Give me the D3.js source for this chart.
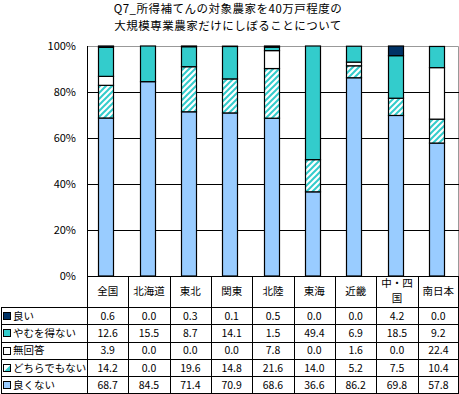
<!DOCTYPE html>
<html><head><meta charset="utf-8">
<script src="https://cdn.jsdelivr.net/npm/d3@7"></script>
<style>
body{margin:0;background:#fff;}
svg{display:block;font-family:"Noto Sans CJK JP","Noto Sans",sans-serif;}
</style></head>
<body><svg id="c" width="459" height="394"></svg>
<script>
const categories = ["全国","北海道","東北","関東","北陸","東海","近畿","中・四国","南日本"];
const yoi        = [0.6, 0.0, 0.3, 0.1, 0.5, 0.0, 0.0, 4.2, 0.0];
const yamuwoenai = [12.6, 15.5, 8.7, 14.1, 1.5, 49.4, 6.9, 18.5, 9.2];
const mukaito    = [3.9, 0.0, 0.0, 0.0, 7.8, 0.0, 1.6, 0.0, 22.4];
const dochira    = [14.2, 0.0, 19.6, 14.8, 21.6, 14.0, 5.2, 7.5, 10.4];
const yokunai    = [68.7, 84.5, 71.4, 70.9, 68.6, 36.6, 86.2, 69.8, 57.8];
const yTicks = [0, 20, 40, 60, 80, 100];
const titleLines = ["Q7_所得補てんの対象農家を40万戸程度の", "大規模専業農家だけにしぼることについて"];

// table rows (top to bottom) and stack order (bottom to top)
const seriesTable = [
  {name:"良い", vals:yoi, fill:"#003366"},
  {name:"やむを得ない", vals:yamuwoenai, fill:"#33CCCC"},
  {name:"無回答", vals:mukaito, fill:"#FFFFFF"},
  {name:"どちらでもない", vals:dochira, fill:"url(#hatch)"},
  {name:"良くない", vals:yokunai, fill:"#99CCFF"}
];
const stackOrder = seriesTable.slice().reverse();

const svg = d3.select("#c");
const defs = svg.append("defs");
const pat = defs.append("pattern").attr("id","hatch").attr("patternUnits","userSpaceOnUse")
  .attr("width",6).attr("height",6);
pat.append("rect").attr("width",6).attr("height",6).attr("fill","#fff");
pat.append("path").attr("d","M-1,7 L7,-1 M-1,1 L1,-1 M5,7 L7,5").attr("stroke","#33CCCC").attr("stroke-width",2);

const pLeft = 87, pRight = 458, pTop = 46, pBottom = 276;
const y = d3.scaleLinear().domain([0,100]).range([pBottom, pTop]);
const x = d3.scaleBand().domain(categories).range([pLeft, pRight+1]).paddingInner(0);
const barW = 15;

// title
svg.append("g").selectAll("text").data(titleLines).join("text")
  .attr("x", 228).attr("y",(d,i)=>13+i*17).attr("text-anchor","middle")
  .attr("font-size",11.5).attr("letter-spacing",0.5).attr("fill","#000").text(d=>d);

// plot border top/right (gray)
svg.append("path").attr("d",`M${pLeft},${pTop+0.5}H${pRight+0.5}V${pBottom}`)
  .attr("fill","none").attr("stroke","#999").attr("stroke-width",1);

// gridlines
svg.append("g").selectAll("line").data(yTicks.filter(t=>t>0 && t<100)).join("line")
  .attr("x1",pLeft).attr("x2",pRight+1)
  .attr("y1",d=>Math.round(y(d))+0.5).attr("y2",d=>Math.round(y(d))+0.5)
  .attr("stroke","#000");

// y axis labels via d3 axis
const yAxis = d3.axisLeft(y).tickValues(yTicks).tickSize(0).tickPadding(0).tickFormat(d=>d+"%");
const ya = svg.append("g").attr("transform",`translate(76,0)`).call(yAxis);
ya.select(".domain").remove();
ya.selectAll("text").attr("font-size",11).attr("font-family","'Noto Sans CJK JP',sans-serif").attr("fill","#000");

// stacked bars
const data = categories.map((c,i)=>{const o={cat:c}; seriesTable.forEach(s=>o[s.name]=s.vals[i]); return o;});
const stack = d3.stack().keys(stackOrder.map(s=>s.name));
const layers = stack(data);
const gBars = svg.append("g");
layers.forEach((layer,li)=>{
  const s = stackOrder[li];
  gBars.append("g").selectAll("rect").data(layer.filter(d=>d[1]-d[0]>0)).join("rect")
    .attr("x",d=>Math.round(x(d.data.cat)+x.bandwidth()/2-9.5)+0.5)
    .attr("width",barW)
    .attr("y",d=>y(d[1]))
    .attr("height",d=>y(d[0])-y(d[1]))
    .attr("fill",s.fill).attr("stroke","#000").attr("stroke-width",1.2);
});

// axis line (left) & baseline
svg.append("line").attr("x1",pLeft+0.5).attr("x2",pLeft+0.5).attr("y1",pTop).attr("y2",393.5).attr("stroke","#000");
svg.append("line").attr("x1",pLeft).attr("x2",pRight+1).attr("y1",pBottom+0.5).attr("y2",pBottom+0.5).attr("stroke","#000");

// table
const rowTop = 307, rowH = 17.3;
const tg = svg.append("g");
categories.forEach((c,i)=>{
  const xx = Math.round(x(c)+x.bandwidth())+ (i===categories.length-1 ? -0.5 : 0.5);
  tg.append("line").attr("x1",xx).attr("x2",xx).attr("y1",pBottom).attr("y2",393.5).attr("stroke","#000");
});
for(let r=0;r<=5;r++){
  const yy = Math.round(rowTop + r*rowH) + (r===5?-0.5:0.5);
  tg.append("line").attr("x1",1).attr("x2",pRight+1).attr("y1",yy).attr("y2",yy).attr("stroke","#000");
}
tg.append("line").attr("x1",1.5).attr("x2",1.5).attr("y1",rowTop).attr("y2",393.5).attr("stroke","#000");

categories.forEach(c=>{
  const cx = x(c)+x.bandwidth()/2;
  if(c==="中・四国"){
    tg.append("text").attr("x",cx).attr("y",287).attr("text-anchor","middle").attr("font-size",10.5).text("中・四");
    tg.append("text").attr("x",cx).attr("y",302).attr("text-anchor","middle").attr("font-size",10.5).text("国");
  } else {
    tg.append("text").attr("x",cx).attr("y",295).attr("text-anchor","middle").attr("font-size",10.5).text(c);
  }
});

seriesTable.forEach((s,r)=>{
  const cy = rowTop + r*rowH + rowH/2 + 4;
  const ky = Math.round(rowTop + r*rowH + rowH/2 - 3.5)+0.5;
  if(s.name==="どちらでもない"){
    tg.append("rect").attr("x",3.5).attr("y",ky).attr("width",7).attr("height",7).attr("fill","#fff").attr("stroke","#000");
    tg.append("path").attr("d",`M${4},${ky+7}L${10.5},${ky+0.5}V${ky+7}Z`).attr("fill","#33CCCC");
    tg.append("rect").attr("x",3.5).attr("y",ky).attr("width",7).attr("height",7).attr("fill","none").attr("stroke","#000");
  } else {
    tg.append("rect").attr("x",3.5).attr("y",ky).attr("width",7).attr("height",7).attr("fill",s.fill).attr("stroke","#000");
  }
  tg.append("text").attr("x",13).attr("y",cy).attr("font-size",10.5).text(s.name);
  s.vals.forEach((v,i)=>{
    tg.append("text").attr("x",x(categories[i])+x.bandwidth()/2).attr("y",cy)
      .attr("text-anchor","middle").attr("font-size",10.5).text(v.toFixed(1));
  });
});
</script></body></html>
